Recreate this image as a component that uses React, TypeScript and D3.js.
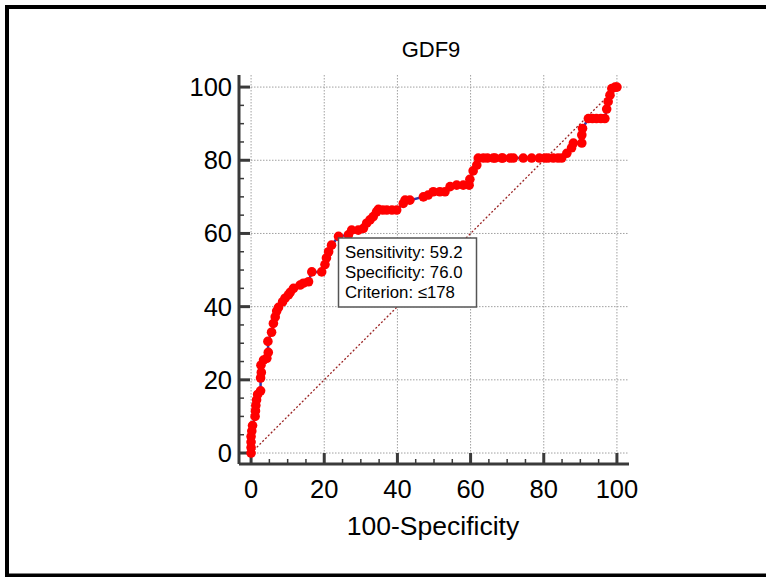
import React from "react";
import * as d3 from "d3";

const rocX: number[] = [
  0, 0, 0, 0, 0.2, 0.4,
  1.1, 1.2, 1.3, 1.5, 1.8, 2.6,
  2.6, 2.8, 2.7, 3.4, 4.3, 4.7, 4.6, 5.6, 6.1, 6.6, 7.0, 7.5, 8.6, 9.3, 10.2, 10.7, 11.6, 13.4, 14.3, 15.7, 16.6, 19.3,
  20.2, 20.6, 21.2, 22.0, 23.9,
  26.6, 27.5, 29.3, 30.7, 31.6, 32.5, 33.4, 34.3, 34.8, 36.0, 37.1, 38.5, 39.8, 41.6, 42.1, 43.4, 47.1, 48.4,
  49.8, 51.6, 53.0, 54.4, 56.2, 58.0, 59.6, 59.8, 60.7, 61.7, 62.1,
  63.5, 64.6, 66.2, 66.7, 68.5, 68.8, 70.8, 71.7, 74.4, 76.7, 78.8, 80.3, 81.2, 82.6, 83.9, 84.9,
  86.3, 87.6, 88.1, 90.4, 90.4, 90.6, 92.2, 93.3, 94.4, 95.6, 96.7, 97.2, 97.6, 98.1, 98.6, 99.5, 100,
];
const rocY: number[] = [
  0, 1.5, 3, 4.5, 6, 7.5,
  10, 11.5, 13, 14.5, 16, 17,
  20.5, 22, 24, 25.4, 25.9, 27.5, 30.5, 33, 35.4, 37.2, 38.8, 39.8, 41.3, 42.3, 43.2, 43.9, 45.0, 45.9, 46.4, 46.8, 49.5, 49.5,
  51.5, 53.3, 55, 56.8, 59.2,
  59.6, 60.9, 60.9, 61.4, 62.8, 63.7, 64.6, 65.9, 66.6, 66.4, 66.4, 66.4, 66.4, 68.2, 69.1, 69.1, 70.0, 70.5,
  71.4, 71.4, 71.4, 72.8, 73.2, 73.2, 73.2, 74.8, 77.1, 78.7, 80.6,
  80.6, 80.6, 80.6, 80.6, 80.6, 80.6, 80.6, 80.6, 80.6, 80.6, 80.6, 80.6, 80.6, 80.6, 80.6, 80.6,
  81.9, 83.4, 84.7, 84.7, 86.9, 88.7, 91.4, 91.4, 91.4, 91.4, 91.4, 94.0, 96.0, 97.8, 99.6, 100, 100,
];
const majorTicks: number[] = [0, 20, 40, 60, 80, 100];
const minorTicks: number[] = d3.range(0, 101, 5).filter((v) => v % 20 !== 0);
const legendLines: string[] = ["Sensitivity: 59.2", "Specificity: 76.0", "Criterion: \u2264178"];
const titleText = "GDF9";
const xLabel = "100-Specificity";

const FONT = "'Liberation Sans', Arial, sans-serif";

export default function App() {
  const x = d3.scaleLinear().domain([-3.3, 103.3]).range([239, 629]);
  const y = d3.scaleLinear().domain([-3.0, 103.3]).range([464, 75]);
  const pts: [number, number][] = rocX.map((v, i) => [v, rocY[i]]);
  const line = d3
    .line<[number, number]>()
    .x((d) => x(d[0]))
    .y((d) => y(d[1]));
  const axisColor = "#3a3a3a";
  const x0 = x.range()[0];
  const x1 = x.range()[1];
  const yB = y.range()[0];
  const yT = y.range()[1];
  return (
    <div style={{ position: "absolute", left: 0, top: 0 }}>
      <svg width={766} height={577} style={{ display: "block" }}>
        <rect x={0} y={0} width={766} height={577} fill="#fff" />
        <rect x={7} y={7} width={800} height={568.5} fill="none" stroke="#000" strokeWidth={4} />
        {/* gridlines */}
        {majorTicks.map((t) => (
          <line key={"gx" + t} x1={x(t)} x2={x(t)} y1={yT} y2={yB} stroke="#a0a0a0" strokeWidth={1} strokeDasharray="1.5,1.5" />
        ))}
        {majorTicks.map((t) => (
          <line key={"gy" + t} x1={x0} x2={x1} y1={y(t)} y2={y(t)} stroke="#a0a0a0" strokeWidth={1} strokeDasharray="1.5,1.5" />
        ))}
        {/* diagonal */}
        <line x1={x(0)} y1={y(0)} x2={x(100)} y2={y(100)} stroke="#9b2525" strokeWidth={1.3} strokeDasharray="2,2" />
        {/* axes */}
        <line x1={x0} x2={x1} y1={yB} y2={yB} stroke={axisColor} strokeWidth={3} />
        <line x1={x0} x2={x0} y1={yT} y2={yB} stroke={axisColor} strokeWidth={3} />
        {majorTicks.map((t) => (
          <line key={"tx" + t} x1={x(t)} x2={x(t)} y1={yB} y2={yB - 11} stroke={axisColor} strokeWidth={3} />
        ))}
        {minorTicks.map((t) => (
          <line key={"mx" + t} x1={x(t)} x2={x(t)} y1={yB} y2={yB - 5} stroke={axisColor} strokeWidth={1.5} />
        ))}
        {majorTicks.map((t) => (
          <line key={"ty" + t} x1={x0} x2={x0 + 11} y1={y(t)} y2={y(t)} stroke={axisColor} strokeWidth={3} />
        ))}
        {minorTicks.map((t) => (
          <line key={"my" + t} x1={x0} x2={x0 + 5} y1={y(t)} y2={y(t)} stroke={axisColor} strokeWidth={1.5} />
        ))}
        {/* tick labels */}
        {majorTicks.map((t) => (
          <text key={"lx" + t} x={x(t)} y={498} textAnchor="middle" fontFamily={FONT} fontSize={25.5} fill="#000">
            {t}
          </text>
        ))}
        {majorTicks.map((t) => (
          <text key={"ly" + t} x={232} y={y(t) + 9} textAnchor="end" fontFamily={FONT} fontSize={25.5} fill="#000">
            {t}
          </text>
        ))}
        {/* ROC curve */}
        <path d={line(pts) || ""} fill="none" stroke="#3535a5" strokeWidth={2.5} />
        {pts.map((p, i) => (
          <circle key={"p" + i} cx={x(p[0])} cy={y(p[1])} r={4.8} fill="#ff0000" />
        ))}
        {/* legend */}
        <rect x={338.5} y={238} width={138} height={69} fill="#fff" stroke="#555" strokeWidth={1.5} />
        {legendLines.map((s, i) => (
          <text key={"lg" + i} x={345} y={257.5 + i * 20.2} fontFamily={FONT} fontSize={16.8} fill="#000">
            {s}
          </text>
        ))}
        {/* title and axis label */}
        <text x={431} y={57} textAnchor="middle" fontFamily={FONT} fontSize={22} fill="#000">
          {titleText}
        </text>
        <text x={433} y={535} textAnchor="middle" fontFamily={FONT} fontSize={26.5} fill="#000">
          {xLabel}
        </text>
      </svg>
    </div>
  );
}
